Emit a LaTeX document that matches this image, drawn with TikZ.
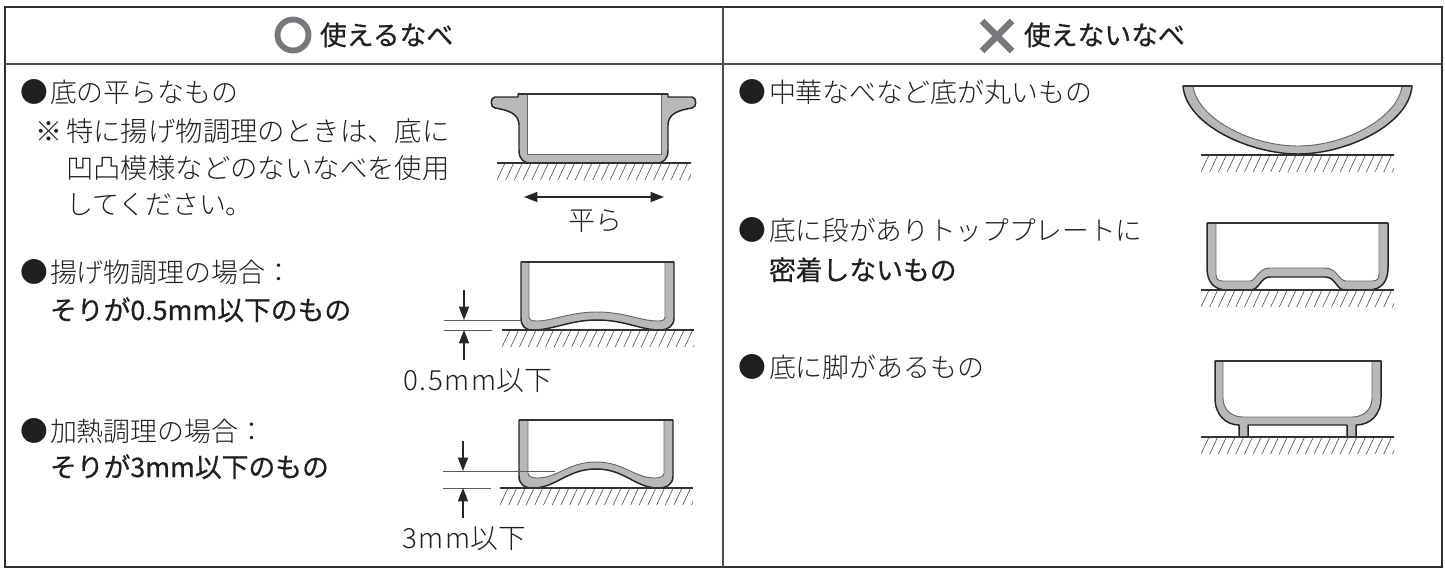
\documentclass[tikz,border=0pt]{standalone}
\usepackage{fontspec}
\usetikzlibrary{arrows.meta}
\setmainfont{Noto Sans CJK JP Light}
\newfontfamily\jb{Noto Sans CJK JP}[FakeBold=0.6]
\newfontfamily\jw{Noto Sans CJK JP Light}[LetterSpace=6]
\newcommand\hatchground[3]{%
  \begin{scope}
  \clip (#1,#3) rectangle (#2,#3+17);
  \foreach \hx in {0,...,24}{
    \draw[hatchline] ({#1+8.7*\hx},#3+17) -- ({#1+8.7*\hx+8},#3);
  }
  \end{scope}
  \draw[groundline] (#1,#3) -- (#2,#3);
}
\tikzset{
  frameline/.style={line width=1.9pt,draw=black!82},
  sepline/.style={line width=1.3pt,draw=black!70},
  potbody/.style={fill=potgray,draw=black!85,line width=1.1pt,line join=round},
  potinner/.style={fill=white,draw=black!60,line width=0.7pt,line join=round},
  potrim/.style={draw=black!80,line width=1.2pt},
  hatchline/.style={draw=black!70,line width=0.45pt},
  groundline/.style={draw=black!80,line width=0.9pt},
  dimline/.style={draw=black!65,line width=0.55pt},
  dimarrow/.style={draw=black!85,line width=1.1pt,-{Triangle[length=10pt,width=7.5pt]}},
  txt/.style={anchor=base west,inner sep=0pt,outer sep=0pt,font=\fontsize{20.2pt}{24pt}\selectfont,text=black!88},
  txtw/.style={txt,font=\fontsize{20.55pt}{24pt}\selectfont},
  txtr/.style={txt,font=\fontsize{20pt}{24pt}\selectfont},
  txtd/.style={txt,font=\fontsize{20.8pt}{24pt}\selectfont},
  txtb/.style={txt,font=\jb\fontsize{20.1pt}{24pt}\selectfont},
  bullet/.style={txt,font=\fontsize{20.8pt}{24pt}\selectfont,text=black!88},
}
\definecolor{potgray}{HTML}{B6B8BA}
\definecolor{markgray}{HTML}{77787B}
\begin{document}
\begin{tikzpicture}[x=0.75pt,y=-0.75pt]
\useasboundingbox (0,0) rectangle (1445,569);
% frame
\draw[frameline] (5,7) rectangle (1442,567);
\draw[sepline] (5,64) -- (1442,64);
\draw[sepline] (723,7) -- (723,567);
% headers
\draw[draw=markgray,line width=4.4pt] (293,35) circle (15.5);
\node[txtb] (hleft) at (320,45) {使えるなべ};
\draw[draw=markgray,line width=5pt] (982,21) -- (1012,51) (1012,21) -- (982,51);
\node[txtb] (hright) at (1024,45) {使えないなべ};
% left text
\node[bullet] (b1) at (20,102) {●};
\node[txt] (l1) at (50,102) {底の平らなもの};
\node[txt] (l2a) at (35,141) {※};
\node[txtw] (l2) at (66,141) {特に揚げ物調理のときは、底に};
\node[txtw] (l3) at (66,178) {凹凸模様などのないなべを使用};
\node[txt] (l4) at (66,214) {してください。};
\node[bullet] (b2) at (20,282) {●};
\node[txt] (l5) at (50,282) {揚げ物調理の場合：};
\node[txtb] (l6) at (50,320) {そりが0.5mm以下のもの};
\node[bullet] (b3) at (20,441) {●};
\node[txt] (l7) at (50,441) {加熱調理の場合：};
\node[txtb] (l8) at (50,477) {そりが3mm以下のもの};
% right text
\node[bullet] (b4) at (738,102) {●};
\node[txt] (r1) at (769,102) {中華なべなど底が丸いもの};
\node[bullet] (b5) at (738,240) {●};
\node[txtr] (r2) at (769,240) {底に段がありトッププレートに};
\node[txtb] (r3) at (769,280) {密着しないもの};
\node[bullet] (b6) at (738,377) {●};
\node[txt] (r4) at (769,377) {底に脚があるもの};
% pan 1
\draw[potbody] (518,94) -- (668,94) -- (668,97) -- (692,97)
  .. controls (697,97) and (697,108) .. (692,108)
  .. controls (680,110) and (668,113) .. (668,125)
  -- (668,150) .. controls (668,159) and (664,163) .. (656,163)
  -- (531,163) .. controls (523,163) and (519,159) .. (519,150)
  -- (519,125) .. controls (519,113) and (507,110) .. (495,108)
  .. controls (490,108) and (490,97) .. (495,97) -- (518,97) -- cycle;
\draw[potinner] (527,94) -- (527,154) -- (661,154) -- (661,94) -- cycle;
\draw[potrim] (518,94) -- (668,94);
\hatchground{497}{691}{163}
\coordinate (a1) at (524,197);
\coordinate (a2) at (664,197);
\draw[draw=black!85,line width=1.1pt,{Triangle[length=10pt,width=7.5pt]}-{Triangle[length=10pt,width=7.5pt]}] (a1) -- (a2);
\node[txt,anchor=center] (flat) at (595,221) {平ら};
% pan 2
\draw[potbody] (521,262) -- (674,262) -- (674,318)
  .. controls (674,326) and (668,330) .. (660,330)
  .. controls (640,330) and (625,320) .. (597,320)
  .. controls (570,320) and (553,330) .. (533,330)
  .. controls (525,330) and (521,326) .. (521,318) -- cycle;
\draw[potinner] (529,262) -- (529,317) .. controls (529,320) and (532,321) .. (537,321)
  .. controls (552,321) and (570,312) .. (597,312)
  .. controls (625,312) and (640,321) .. (658,321)
  .. controls (662,321) and (665,320) .. (665,317) -- (665,262) -- cycle;
\draw[potrim] (521,262) -- (674,262);
\hatchground{502}{694}{330}
\draw[dimline] (444,320) -- (521,320);
\draw[dimline] (444,330) -- (492,330);
\coordinate (e1) at (464,290);
\coordinate (e2) at (464,320);
\coordinate (e3) at (464,360);
\coordinate (e4) at (464,330);
\draw[dimarrow] (e1) -- (e2);
\draw[dimarrow] (e3) -- (e4);
\node[txtd] (d05) at (403,390) {{\jw 0.5mm}以下};
% pan 3
\draw[potbody] (519,420) -- (673,420) -- (673,476)
  .. controls (673,484) and (667,488) .. (658,488)
  .. controls (635,488) and (625,469) .. (596,469)
  .. controls (567,469) and (556,488) .. (533,488)
  .. controls (524,488) and (519,484) .. (519,476) -- cycle;
\draw[potinner] (528,420) -- (528,473) .. controls (528,476) and (531,478) .. (537,478)
  .. controls (558,478) and (568,462) .. (596,462)
  .. controls (624,462) and (634,478) .. (655,478)
  .. controls (661,478) and (664,476) .. (664,473) -- (664,420) -- cycle;
\draw[potrim] (519,420) -- (673,420);
\hatchground{500}{693}{488}
\draw[dimline] (443,471) -- (555,471);
\draw[dimline] (443,488) -- (491,488);
\coordinate (f1) at (463,441);
\coordinate (f2) at (463,471);
\coordinate (f3) at (463,518);
\coordinate (f4) at (463,488);
\draw[dimarrow] (f1) -- (f2);
\draw[dimarrow] (f3) -- (f4);
\node[txtd] (d3) at (402,548) {{\jw 3mm}以下};
% wok
\draw[potbody] (1183,86) -- (1412,86) .. controls (1409,125) and (1346,154) .. (1298,154)
  .. controls (1250,154) and (1186,125) .. (1183,86) -- cycle;
\draw[potinner] (1193,86) -- (1402,86) .. controls (1398,118) and (1345,146) .. (1298,146)
  .. controls (1250,146) and (1197,118) .. (1193,86) -- cycle;
\draw[potrim] (1183,86) -- (1412,86);
\hatchground{1201}{1394}{155}
% stepped pan
\draw[potbody] (1207,223) -- (1388,223) -- (1388,268)
  .. controls (1388,282) and (1381,290) .. (1368,290) -- (1345,290)
  .. controls (1336,290) and (1336,277) .. (1325,277) -- (1270,277)
  .. controls (1260,277) and (1260,290) .. (1250,290) -- (1227,290)
  .. controls (1214,290) and (1207,282) .. (1207,268) -- cycle;
\draw[potinner] (1216,223) -- (1216,274) .. controls (1216,279) and (1218,281) .. (1223,281)
  -- (1250,281) .. controls (1256,281) and (1258,268) .. (1270,268) -- (1325,268)
  .. controls (1337,268) and (1339,281) .. (1346,281) -- (1372,281)
  .. controls (1377,281) and (1379,279) .. (1379,274) -- (1379,223) -- cycle;
\draw[potrim] (1207,223) -- (1388,223);
\hatchground{1201}{1394}{290}
% footed pan
\draw[potbody] (1215,361) -- (1381,361) -- (1381,398)
  .. controls (1381,415) and (1370,425) .. (1356,425) -- (1356,437) -- (1347,437) -- (1347,425)
  -- (1248,425) -- (1248,437) -- (1239,437) -- (1239,425)
  .. controls (1226,425) and (1215,415) .. (1215,398) -- cycle;
\draw[potinner] (1223,361) -- (1223,398) .. controls (1223,410) and (1232,417) .. (1243,417)
  -- (1352,417) .. controls (1363,417) and (1372,410) .. (1372,398) -- (1372,361) -- cycle;
\draw[potrim] (1215,361) -- (1381,361);
\hatchground{1201}{1394}{437}
\end{tikzpicture}
\end{document}
